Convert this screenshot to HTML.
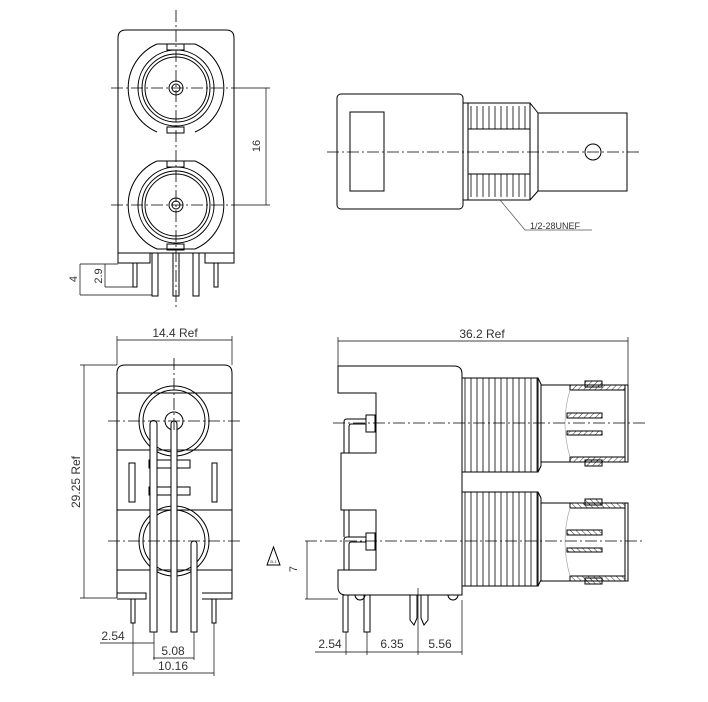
<!DOCTYPE html>
<html><head><meta charset="utf-8"><style>
html,body{margin:0;padding:0;background:#fff}
svg{display:block}
text{font-family:"Liberation Sans",sans-serif;fill:#333}
</style></head><body>
<svg width="708" height="702" viewBox="0 0 708 702" xmlns="http://www.w3.org/2000/svg">
<defs>
<pattern id="thr" width="6" height="10" patternUnits="userSpaceOnUse"><line x1="3" y1="0" x2="3" y2="10" stroke="#000" stroke-width="0.8"/></pattern>
<pattern id="hat" width="4" height="4" patternUnits="userSpaceOnUse" patternTransform="rotate(45)"><line x1="0" y1="0" x2="0" y2="4" stroke="#000" stroke-width="0.8"/></pattern>
<pattern id="hat2" width="4" height="4" patternUnits="userSpaceOnUse" patternTransform="rotate(-45)"><line x1="0" y1="0" x2="0" y2="4" stroke="#000" stroke-width="0.8"/></pattern>
</defs>
<g fill="none" stroke="#000" stroke-width="1">
<!-- TOP LEFT VIEW -->
<path d="M118 259 V38 Q118 30 126 30 H226 Q234 30 234 38 V259"/>
<path d="M118 253 H234 M118 253 V263 H150 V253 M205 253 V263 H234 V253"/>
<path d="M157 44 H195 A48 48 0 0 1 195 132 M157 132 A48 48 0 0 1 157 44"/>
<circle cx="176" cy="88" r="38"/><circle cx="176" cy="88" r="34"/><circle cx="176" cy="88" r="31"/>
<circle cx="176" cy="88" r="7"/><circle cx="176" cy="88" r="4"/>
<rect x="167" y="44" width="17" height="6"/><rect x="167" y="127" width="17" height="6"/>
<path d="M157 161 H195 A48 48 0 0 1 195 249 H157 A48 48 0 0 1 157 161"/>
<circle cx="176" cy="205" r="38"/><circle cx="176" cy="205" r="34"/><circle cx="176" cy="205" r="31"/>
<circle cx="176" cy="205" r="7"/><circle cx="176" cy="205" r="4"/>
<rect x="167" y="161" width="17" height="6"/><rect x="167" y="244" width="17" height="6"/>
<rect x="133" y="263" width="4" height="24"/><rect x="152" y="253" width="6" height="43"/>
<rect x="173" y="253" width="6" height="43"/><rect x="193" y="253" width="6" height="43"/>
<rect x="214" y="263" width="4" height="24"/>
<line x1="176" y1="10" x2="176" y2="310" stroke-dasharray="12 3 2 3" stroke-width="0.8"/>
<line x1="111" y1="88" x2="242" y2="88" stroke-dasharray="12 3 2 3" stroke-width="0.8"/>
<line x1="111" y1="205" x2="242" y2="205" stroke-dasharray="12 3 2 3" stroke-width="0.8"/>
<g stroke-width="0.7"><line x1="242" y1="88" x2="270" y2="88"/><line x1="242" y1="205" x2="270" y2="205"/><line x1="266" y1="88" x2="266" y2="205"/>
<line x1="80" y1="264" x2="118" y2="264"/><line x1="80" y1="295" x2="152" y2="295"/><line x1="80" y1="264" x2="80" y2="295"/>
<line x1="105" y1="264" x2="105" y2="287"/><line x1="105" y1="287" x2="133" y2="287"/></g>

<!-- TOP RIGHT VIEW -->
<rect x="337" y="94" width="126" height="115" rx="4"/>
<rect x="350" y="112" width="34" height="79"/>
<rect x="463" y="103" width="5" height="97"/>
<rect x="468" y="106" width="62" height="23" fill="url(#thr)" stroke="none"/>
<rect x="468" y="174" width="62" height="23" fill="url(#thr)" stroke="none"/>
<path d="M468 103 H530 L538 113 V191 L530 200 H468 M468 129 H530 M468 174 H530 M530 103 V200"/>
<rect x="538" y="113" width="89" height="78"/>
<circle cx="593" cy="152" r="8"/>
<line x1="327" y1="152" x2="640" y2="152" stroke-dasharray="12 3 2 3" stroke-width="0.8"/>
<path d="M500 200 L525 230 H592" stroke-width="0.7" stroke="#555"/>

<!-- BOTTOM LEFT VIEW -->
<path d="M117 598 V373 Q117 365 125 365 H224 Q232 365 232 373 V598"/>
<path d="M117 393 H232 M117 450 H232 M117 510 H232 M117 570 H232"/>
<path d="M117 593 H146 V599 H117 M202 593 H232 V599 H202"/>
<circle cx="174" cy="421" r="35"/><circle cx="174" cy="421" r="31"/><circle cx="174" cy="421" r="9"/>
<circle cx="174" cy="541" r="35"/><circle cx="174" cy="541" r="31"/>
<rect x="129" y="463" width="6" height="39"/><rect x="212" y="463" width="5" height="39"/>
<rect x="149" y="460" width="41" height="8" fill="#fff"/><rect x="149" y="487" width="41" height="8" fill="#fff"/>
<path d="M150 632 V424 A3.5 3.5 0 0 1 157 424 V632 Z" fill="#fff"/>
<path d="M171 632 V424 A3 3 0 0 1 177 424 V632 Z" fill="#fff"/>
<path d="M191 632 V544 A3 3 0 0 1 197 544 V632 Z" fill="#fff"/>
<rect x="131" y="599" width="4" height="24"/><rect x="212" y="599" width="4" height="24"/>
<line x1="174" y1="358" x2="174" y2="432" stroke-dasharray="12 3 2 3" stroke-width="0.8"/>
<line x1="108" y1="421" x2="240" y2="421" stroke-dasharray="12 3 2 3" stroke-width="0.8"/>
<line x1="108" y1="541" x2="240" y2="541" stroke-dasharray="12 3 2 3" stroke-width="0.8"/>
<g stroke-width="0.7">
<line x1="117" y1="340" x2="232" y2="340"/><line x1="117" y1="336" x2="117" y2="365"/><line x1="232" y1="336" x2="232" y2="365"/>
<line x1="84" y1="365" x2="84" y2="598"/><line x1="80" y1="365" x2="117" y2="365"/><line x1="80" y1="598" x2="117" y2="598"/>
<line x1="100" y1="643" x2="154" y2="643"/><line x1="154" y1="632" x2="154" y2="660"/>
<line x1="153" y1="658" x2="194" y2="658"/><line x1="194" y1="632" x2="194" y2="660"/>
<line x1="133" y1="673" x2="214" y2="673"/><line x1="133" y1="623" x2="133" y2="676"/><line x1="214" y1="623" x2="214" y2="676"/>
</g>
<path d="M267 565 L273.5 547 L280 565 Z"/>

<!-- BOTTOM RIGHT VIEW -->
<path d="M338 366 H454 Q462 366 462 374 V595 H346 Q338 595 338 587 V570 H376 V510 H341 V453 H376 V393 H338 Z"/>
<rect x="366" y="415" width="9" height="17" fill="#fff"/>
<rect x="366" y="533" width="9" height="17" fill="#fff"/>
<path d="M366 419 H347 Q344 419 344 422 V453 M366 424 H351 Q349 424 349 427 V453"/>
<path d="M366 537 H347 Q344 537 344 540 V570 M366 542 H351 Q349 542 349 545 V570 M344 510 V537 M349 510 V537"/>
<rect x="343" y="595" width="5" height="37"/><rect x="364" y="595" width="6" height="37"/>
<path d="M410 595 V620 L414 625 L417 618 V595 M421 595 V618 L424 625 L428 620 V595"/>
<path d="M355 595 A5 5 0 0 0 365 595 M448 595 A5 5 0 0 0 458 595"/>
<rect x="462" y="378" width="76" height="94" fill="url(#thr)"/>
<rect x="462" y="492" width="76" height="94" fill="url(#thr)"/>
<path d="M538 378 L541 384 V466 L538 472 M538 492 L541 498 V580 L538 586"/>
<rect x="541" y="385" width="87" height="77"/>
<rect x="541" y="503" width="87" height="78"/>
<rect x="570" y="385" width="55" height="5" fill="url(#hat)"/><rect x="570" y="457" width="55" height="5" fill="url(#hat)"/>
<rect x="585" y="381" width="17" height="6" fill="url(#hat)"/><rect x="585" y="460" width="17" height="6" fill="url(#hat)"/>
<rect x="570" y="503" width="55" height="5" fill="url(#hat2)"/><rect x="570" y="576" width="55" height="5" fill="url(#hat2)"/>
<rect x="585" y="499" width="17" height="6" fill="url(#hat2)"/><rect x="585" y="578" width="17" height="6" fill="url(#hat2)"/>
<path d="M625 385 V462 M625 503 V581"/>
<rect x="567" y="413" width="35" height="5" fill="url(#hat)"/><rect x="567" y="431" width="35" height="4" fill="url(#hat)"/>
<rect x="567" y="530" width="35" height="5" fill="url(#hat2)"/><rect x="567" y="548" width="35" height="4" fill="url(#hat2)"/>
<path d="M570 390 Q560 423 570 457 M570 508 Q560 541 570 576" stroke="#999" stroke-width="0.6"/>
<line x1="333" y1="423" x2="645" y2="423" stroke-dasharray="12 3 2 3" stroke-width="0.8"/>
<line x1="305" y1="541" x2="645" y2="541" stroke-dasharray="12 3 2 3" stroke-width="0.8"/>
<g stroke-width="0.7">
<line x1="338" y1="341" x2="628" y2="341"/><line x1="338" y1="337" x2="338" y2="366"/><line x1="628" y1="337" x2="628" y2="385"/>
<line x1="307" y1="541" x2="307" y2="599"/><line x1="305" y1="599" x2="338" y2="599"/>
<line x1="315" y1="652" x2="462" y2="652"/><line x1="346" y1="632" x2="346" y2="655"/><line x1="367" y1="632" x2="367" y2="655"/>
<line x1="418" y1="588" x2="418" y2="655"/><line x1="462" y1="600" x2="462" y2="655"/>
</g>
</g>
<g font-size="12">
<text x="260" y="146" transform="rotate(-90 260 146)" text-anchor="middle" font-size="11">16</text>
<text x="77" y="279" transform="rotate(-90 77 279)" text-anchor="middle" font-size="11">4</text>
<text x="102" y="276" transform="rotate(-90 102 276)" text-anchor="middle" font-size="11">2.9</text>
<text x="530" y="229" font-size="9">1/2-28UNEF</text>
<text x="175" y="337" text-anchor="middle">14.4  Ref</text>
<text x="80" y="482" transform="rotate(-90 80 482)" text-anchor="middle">29.25  Ref</text>
<text x="113" y="640" text-anchor="middle">2.54</text>
<text x="173" y="655" text-anchor="middle">5.08</text>
<text x="173" y="670" text-anchor="middle">10.16</text>
<text x="273.5" y="563" text-anchor="middle" font-size="4">B-1</text>
<text x="297" y="569" transform="rotate(-90 297 569)" text-anchor="middle" font-size="11">7</text>
<text x="482" y="338" text-anchor="middle">36.2  Ref</text>
<text x="330" y="648" text-anchor="middle">2.54</text>
<text x="392" y="648" text-anchor="middle">6.35</text>
<text x="440" y="648" text-anchor="middle">5.56</text>
</g>
</svg>
</body></html>
